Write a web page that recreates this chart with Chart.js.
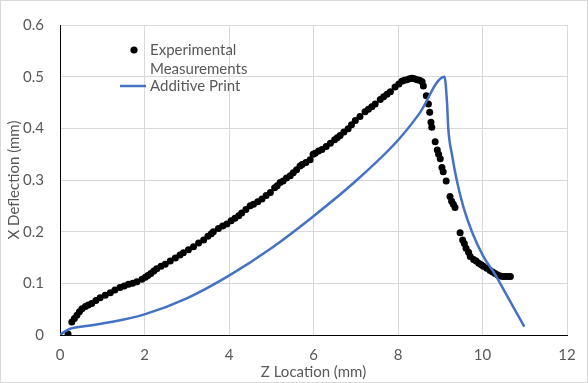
<!DOCTYPE html>
<html>
<head>
<meta charset="utf-8">
<script src="https://cdn.jsdelivr.net/npm/chart.js@4.4.1/dist/chart.umd.min.js"></script>
<style>
  html, body { margin: 0; padding: 0; background: #ffffff; }
  #wrap { width: 588px; height: 383px; position: relative; }
</style>
</head>
<body>
<div id="wrap"><canvas id="c" width="588" height="383"></canvas></div>
<script>
// ---- Data ----
const seriesNames = ["Experimental Measurements", "Additive Print"];

const expX = [0.19,0.28,0.34,0.40,0.46,0.52,0.60,0.67,0.75,0.85,0.95,1.07,1.19,1.30,1.42,1.52,1.62,1.72,1.82,1.94,
  2.02,2.08,2.15,2.22,2.29,2.39,2.49,2.61,2.73,2.84,2.92,3.04,3.16,3.28,3.40,3.50,3.58,3.63,3.75,3.85,
  3.95,4.05,4.14,4.23,4.30,4.40,4.50,4.58,4.68,4.78,4.88,4.98,5.08,5.14,5.21,5.28,5.36,5.45,5.52,5.60,
  5.68,5.73,5.82,5.92,5.99,6.04,6.12,6.20,6.30,6.40,6.50,6.56,6.63,6.72,6.82,6.90,6.99,7.10,7.22,7.30,
  7.38,7.46,7.58,7.66,7.74,7.82,7.93,8.02,8.09,8.15,8.21,8.27,8.33,8.39,8.45,8.51,8.57,8.60,8.67,8.72,
  8.75,8.78,8.80,8.88,8.93,8.96,9.00,9.04,9.07,9.14,9.23,9.27,9.31,9.35,9.47,9.53,9.57,9.61,9.67,9.71,
  9.79,9.85,9.91,9.97,10.02,10.10,10.18,10.24,10.30,10.36,10.42,10.48,10.54,10.60,10.66];
const expY = [0.002,0.025,0.032,0.038,0.045,0.051,0.055,0.058,0.061,0.067,0.072,0.077,0.082,0.087,0.092,0.095,0.098,0.100,0.103,0.108,
  0.112,0.115,0.119,0.124,0.128,0.133,0.137,0.143,0.149,0.155,0.159,0.165,0.171,0.178,0.184,0.191,0.196,0.200,0.206,0.211,
  0.215,0.221,0.226,0.231,0.236,0.243,0.250,0.253,0.258,0.263,0.270,0.276,0.285,0.289,0.295,0.298,0.304,0.308,0.314,0.320,
  0.327,0.330,0.334,0.339,0.350,0.352,0.356,0.359,0.365,0.371,0.378,0.382,0.386,0.393,0.399,0.407,0.415,0.423,0.432,0.437,
  0.442,0.447,0.456,0.461,0.466,0.471,0.480,0.486,0.491,0.493,0.494,0.496,0.497,0.496,0.494,0.493,0.490,0.482,0.463,0.447,
  0.431,0.412,0.402,0.374,0.358,0.350,0.341,0.324,0.316,0.298,0.268,0.259,0.253,0.247,0.198,0.184,0.177,0.168,0.160,0.152,
  0.146,0.143,0.139,0.136,0.133,0.129,0.125,0.122,0.119,0.116,0.114,0.113,0.113,0.113,0.113];

const printX = [0,0.1,0.24,0.67,1.2,2.0,3.0,4.0,5.0,6.0,7.0,8.0,8.5,9.10,
  9.16,9.19,9.28,9.39,9.55,9.75,10.02,10.30,10.50,10.73,10.99];
const printY = [0,0.006,0.012,0.018,0.025,0.040,0.071,0.115,0.168,0.230,0.298,0.377,0.428,0.500,
  0.450,0.400,0.348,0.300,0.247,0.200,0.152,0.117,0.088,0.054,0.016];

const xTicks = [0, 2, 4, 6, 8, 10, 12];
const yTicks = [0, 0.1, 0.2, 0.3, 0.4, 0.5, 0.6];
const xTitle = "Z Location (mm)";
const yTitle = "X Deflection (mm)";

// ---- Styling ----
const FONT = "Lato";
const FS = 15;
const TXT = "#595959";
const GRID = "#d9d9d9";
const BLUE = "#4472C4";

const borderPlugin = {
  id: "outerBorder",
  afterDraw(chart) {
    const ctx = chart.ctx;
    ctx.save();
    ctx.strokeStyle = GRID;
    ctx.lineWidth = 1;
    ctx.strokeRect(0.5, 0.5, chart.width - 1, chart.height - 1);
    ctx.restore();
  }
};

const innerLegend = {
  id: "innerLegend",
  afterDatasetsDraw(chart) {
    const ctx = chart.ctx;
    ctx.save();
    ctx.font = FS + "px " + FONT;
    ctx.textBaseline = "middle";
    ctx.textAlign = "left";
    const ds = chart.data.datasets;
    const l1 = ds[0].label.split(" ");
    ctx.beginPath();
    ctx.fillStyle = "#000";
    ctx.arc(134, 50, 3.6, 0, Math.PI * 2);
    ctx.fill();
    ctx.fillStyle = TXT;
    ctx.fillText(l1[0], 150, 50);
    ctx.fillText(l1.slice(1).join(" "), 150, 69);
    ctx.strokeStyle = BLUE;
    ctx.lineWidth = 2.5;
    ctx.beginPath();
    ctx.moveTo(120, 86);
    ctx.lineTo(146, 86);
    ctx.stroke();
    ctx.fillText(ds[1].label, 150, 86);
    ctx.restore();
  }
};

const expData = expX.map((x, i) => ({ x: x, y: expY[i] }));
const printData = printX.map((x, i) => ({ x: x, y: printY[i] }));

new Chart(document.getElementById("c"), {
  type: "scatter",
  data: {
    datasets: [
      {
        label: seriesNames[0],
        data: expData,
        backgroundColor: "#000000",
        borderColor: "#000000",
        pointRadius: 3.5,
        pointBorderWidth: 0,
        showLine: false,
        order: 1
      },
      {
        label: seriesNames[1],
        data: printData,
        borderColor: BLUE,
        backgroundColor: BLUE,
        borderWidth: 2.5,
        pointRadius: 0,
        showLine: true,
        cubicInterpolationMode: "monotone",
        order: 0
      }
    ]
  },
  options: {
    responsive: false,
    animation: false,
    layout: { padding: { left: 0, top: 19, right: 21, bottom: 0 } },
    plugins: {
      legend: { display: false },
      tooltip: { enabled: false }
    },
    scales: {
      x: {
        type: "linear",
        min: 0, max: 12,
        afterBuildTicks(scale) { scale.ticks = xTicks.map(v => ({ value: v })); },
        afterFit(scale) { scale.height = 48; },
        grid: { color: GRID, drawTicks: false, lineWidth: 1 },
        border: { color: "#000000", width: 1 },
        ticks: { color: TXT, font: { family: FONT, size: FS }, padding: 11, maxRotation: 0 },
        title: { display: true, text: xTitle, color: TXT, font: { family: FONT, size: FS }, padding: { top: 0, bottom: 2 } }
      },
      y: {
        type: "linear",
        min: 0, max: 0.6,
        afterBuildTicks(scale) { scale.ticks = yTicks.map(v => ({ value: v })); },
        afterFit(scale) { scale.width = 60; },
        grid: { color: GRID, drawTicks: false, lineWidth: 1 },
        border: { color: "#000000", width: 1 },
        ticks: {
          color: TXT, font: { family: FONT, size: FS }, padding: 16,
          callback: v => String(Math.round(v * 10) / 10)
        },
        title: { display: true, text: yTitle, color: TXT, font: { family: FONT, size: FS }, padding: { top: 5, bottom: 0 } }
      }
    }
  },
  plugins: [innerLegend, borderPlugin]
});
</script>
</body>
</html>
